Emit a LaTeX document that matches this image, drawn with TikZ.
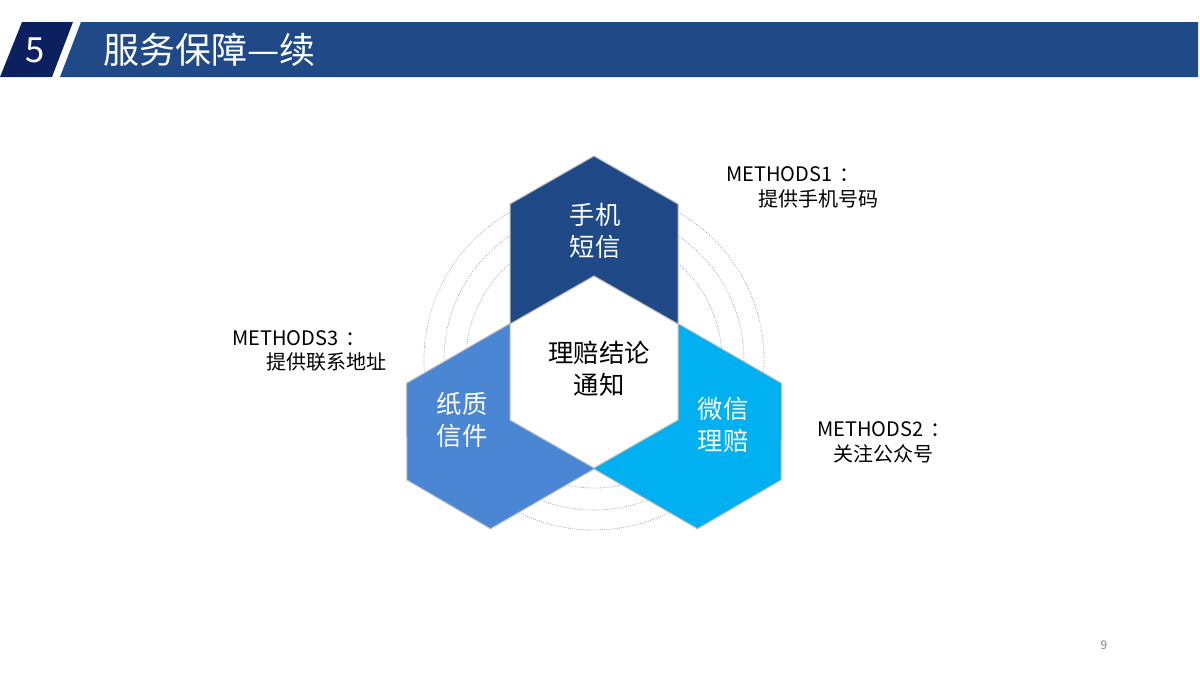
\documentclass[tikz,border=0pt]{standalone}
\usepackage{fontspec}
\newfontfamily\cjk{Noto Sans CJK SC}
\definecolor{headnavy}{RGB}{12,32,96}
\definecolor{headblue}{RGB}{31,73,135}
\definecolor{hexdark}{RGB}{31,73,135}
\definecolor{hexmid}{RGB}{74,134,212}
\definecolor{hexlight}{RGB}{0,176,240}

\begin{document}
\begin{tikzpicture}[x=0.75pt,y=-0.75pt,every node/.style={font=\cjk,inner sep=0pt},hexagon/.style={draw=black!25,line width=0.75pt},ring/.style={draw=black!35,densely dotted,line width=0.6pt},hexlabel/.style={align=center,text=white,font=\cjk\fontsize{19}{24}\selectfont},method/.style={anchor=base west,font=\cjk\fontsize{15}{18}\selectfont}]
\useasboundingbox (0,0) rectangle (1200,675);
% header
\fill[headnavy] (22,22) -- (73,22) -- (52,77) -- (0,77) -- cycle;
\fill[headblue] (81,22) -- (1198,22) -- (1198,77) -- (60,77) -- cycle;
\node[text=white,font=\cjk\fontsize{26}{30}\selectfont] (num) at (35,50) {5};
\node[text=white,anchor=west,font=\cjk\fontsize{27}{30}\selectfont] (title) at (103,50) {服务保障—续};
% rings behind
\draw[ring] (594,360) circle (128) circle (150) circle (170);
% hexagons
\filldraw[hexagon,fill=hexmid,rotate around={120:(594,372)}] (594,372) -- (678,324) -- (678,204) -- (594,156) -- (510,204) -- (510,324) -- cycle;
\filldraw[hexagon,fill=hexlight,rotate around={-120:(594,372)}] (594,372) -- (678,324) -- (678,204) -- (594,156) -- (510,204) -- (510,324) -- cycle;
\filldraw[hexagon,fill=hexdark] (594,372) -- (678,324) -- (678,204) -- (594,156) -- (510,204) -- (510,324) -- cycle;
\filldraw[hexagon,fill=white] (594,276) -- (678,324) -- (678,420) -- (594,468) -- (510,420) -- (510,324) -- cycle;
\node[hexlabel] (sms) at (595,231) {手机\\短信};
\node[hexlabel,text=black] (notice) at (599,369) {理赔结论\\通知};
\node[hexlabel] (mail) at (462,420) {纸质\\信件};
\node[hexlabel] (wechat) at (723,425) {微信\\理赔};
% methods
\node[method] (m1) at (726,181) {METHODS1\hspace{0.35em}：};
\node[method] (m1d) at (758,206) {提供手机号码};
\node[method] (m2) at (817,436) {METHODS2\hspace{0.35em}：};
\node[method] (m2d) at (833,461) {关注公众号};
\node[method] (m3) at (232,345) {METHODS3\hspace{0.35em}：};
\node[method] (m3d) at (266,369) {提供联系地址};
\node[text=black!50,font=\cjk\fontsize{9}{10}\selectfont] (page) at (1104,645) {9};
\end{tikzpicture}
\end{document}
